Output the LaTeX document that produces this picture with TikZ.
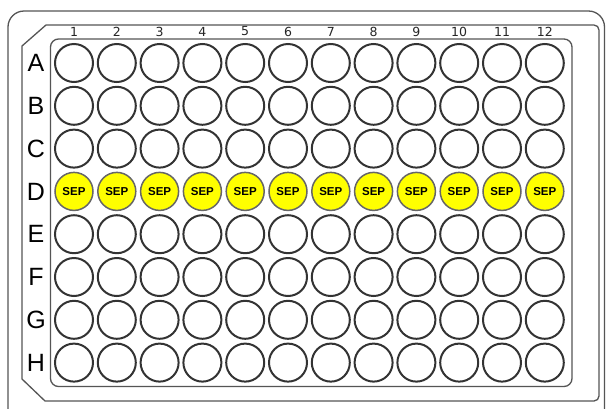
\documentclass[tikz,border=0pt]{standalone}
\usepackage{fontspec}
\setmainfont{Liberation Sans}
\newfontfamily\numfont{DejaVu Sans}
\definecolor{wellc}{HTML}{333333}
\definecolor{framec}{HTML}{555555}
\definecolor{sepc}{HTML}{FFFF00}
\begin{document}
\begin{tikzpicture}[x=1pt,y=-1pt,
  frame/.style={draw=framec,line width=1.3pt},
  well/.style={circle,draw=wellc,line width=2pt,minimum size=38pt,inner sep=0pt},
  sepwell/.style={circle,draw=gray!80!black,line width=1.5pt,fill=sepc,minimum size=38pt,inner sep=0pt,font=\bfseries\fontsize{11.5}{11.5}\selectfont},
  collab/.style={font=\numfont\fontsize{12.5}{12.5}\selectfont,text=black!85,inner sep=0pt},
  rowlab/.style={font=\fontsize{25}{25}\selectfont,inner sep=0pt}]
\useasboundingbox (0,0) rectangle (606,408);
\fill[white] (0,0) rectangle (606,408);
% outer frame
\draw[frame,rounded corners=16pt] (8,420) -- (8,11) -- (604.5,11) -- (604.5,420);
% middle frame
\draw[frame] (22,46) -- (46,25) -- (594,25) arc[start angle=-90,end angle=0,radius=5] -- (599,396) arc[start angle=0,end angle=90,radius=5] -- (45,401) -- (22,379) -- cycle;
% inner frame
\draw[frame,rounded corners=8pt] (50.5,39) rectangle (572,386.5);
\foreach \c in {1,...,12}{
  \node[collab] (n\c) at ({74+(\c-1)*42.8},31.5) {\c};
}
\foreach \r [count=\i] in {A,B,C,D,E,F,G,H}{
  \node[rowlab] (l\r) at (36,{63+(\i-1)*42.8}) {\r};
  \foreach \c in {1,...,12}{
    \ifnum\i=4
      \node[sepwell] (w\r\c) at ({74+(\c-1)*42.8},{63+(\i-1)*42.8}) {SEP};
    \else
      \node[well] (w\r\c) at ({74+(\c-1)*42.8},{63+(\i-1)*42.8}) {};
    \fi
  }
}
\end{tikzpicture}
\end{document}
